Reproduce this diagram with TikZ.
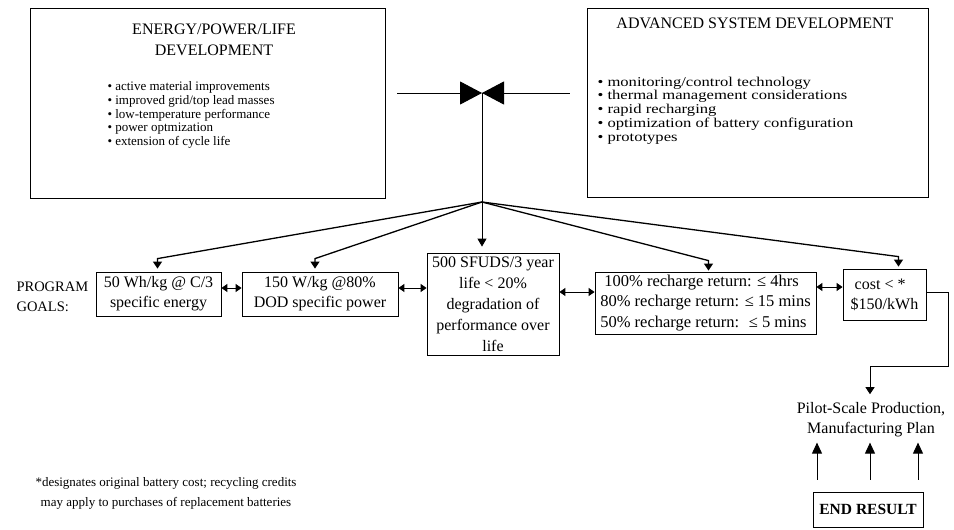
\documentclass[tikz,border=0pt]{standalone}
\usepackage{fontspec}
\setmainfont{Liberation Serif}
\newfontfamily\widefont[FakeStretch=1.23]{Liberation Serif}
\usetikzlibrary{arrows.meta,calc}

\begin{document}
\begin{tikzpicture}
   [x=1pt,y=-1pt,
    box/.style={draw,line width=0.8pt,inner sep=0pt},
    goal/.style={draw,line width=0.8pt,inner sep=2pt,align=center,
       font=\fontsize{16}{20}\selectfont},
    feed/.style={line width=1.3pt,-{Triangle[length=7pt,width=9pt]}},
    rise/.style={line width=0.9pt,-{Triangle[length=11pt,width=10pt]}},
    meet/.style={line width=0.9pt,-{Triangle[length=22pt,width=23pt]}},
    link/.style={line width=1pt,{Triangle[length=6pt,width=8pt]}-{Triangle[length=6pt,width=8pt]}}]
   \useasboundingbox (0,0) rectangle (954,530);

   % development boxes
   \node[box,minimum width=355pt,minimum height=190pt] (lbox) at (207.5,103) {};
   \node[align=center,font=\fontsize{16}{21}\selectfont] (ltitle) at (214,39.5)
      {ENERGY/POWER/LIFE\\DEVELOPMENT};
   \node[anchor=west,align=left,font=\fontsize{13}{13.6}\selectfont] (litems) at (104,115)
      {• active material improvements\\• improved grid/top lead masses\\
       • low-temperature performance\\• power optmization\\• extension of cycle life};

   \node[box,minimum width=341pt,minimum height=189pt] (rbox) at (757.5,102.5) {};
   \node[font=\fontsize{16}{20}\selectfont] (rtitle) at (755,23) {ADVANCED SYSTEM DEVELOPMENT};
   \node[anchor=west,align=left,font=\widefont\fontsize{13.5}{13.8}\selectfont] (ritems) at (594,110.5)
      {• monitoring/control technology\\• thermal management considerations\\
       • rapid recharging\\• optimization of battery configuration\\• prototypes};

   \coordinate (hub) at (482,93);
   \coordinate (split) at (482,202);
   \draw[meet] ($(lbox.east |- hub)+(12,0)$) -- (hub);
   \draw[meet] ($(rbox.west |- hub)+(-17,0)$) -- (hub);
   \draw[line width=0.9pt] (hub) -- (split);

   % program goals
   \node[anchor=west,align=left,font=\fontsize{14.5}{20}\selectfont] (prog) at (13,297)
      {PROGRAM\\GOALS:};
   \node[goal,minimum width=125pt,minimum height=44pt] (g1) at (158.5,294)
      {50 Wh/kg @ C/3\\specific energy};
   \node[goal,minimum width=156pt,minimum height=44pt] (g2) at (320,294)
      {150 W/kg @80\%\\DOD specific power};
   \node[goal,minimum width=132pt,minimum height=102pt,font=\fontsize{16}{21}\selectfont] (g3) at (493,304)
      {500 SFUDS/3 year\\life < 20\%\\degradation of\\performance over\\life};
   \node[goal,align=left,minimum width=221pt,minimum height=62pt,font=\fontsize{16.5}{20.5}\selectfont] (g4) at (705.5,303)
      {\ 100\% recharge return: ≤ 4hrs\\80\% recharge return: ≤ 15 mins\\50\% recharge return: \ ≤ 5 mins};
   \node[goal,align=left,minimum width=83pt,minimum height=51pt] (g5) at (884.5,294.5)
      {\ cost < *\\\$150/kWh};

   \draw[feed] (split) -- ([shift={(-1,-13)}]g1.north) -- ([shift={(-1,-3)}]g1.north);
   \draw[feed] (split) -- ([shift={(-5,-13)}]g2.north) -- ([shift={(-5,-3)}]g2.north);
   \draw[line width=0.9pt,-{Triangle[length=8pt,width=9pt]}] (split) -- ([shift={(0,-6)}]g3.north -| split);
   \draw[feed] (split) -- ([shift={(3,-11)}]g4.north) -- ([shift={(3,-1)}]g4.north);
   \draw[feed] (split) -- ([shift={(14,-12)}]g5.north) -- ([shift={(14,-2)}]g5.north);

   \draw[link] (g1.east |- 0,288) -- (g2.west |- 0,288);
   \draw[link] (g2.east |- 0,288) -- (g3.west |- 0,288);
   \draw[link] (g3.east |- 0,292) -- (g4.west |- 0,292);
   \draw[link] (g4.east |- 0,287) -- (g5.west |- 0,287);

   % production
   \node[align=center,font=\fontsize{16}{20}\selectfont] (pilot) at (871,420)
      {Pilot-Scale Production,\\Manufacturing Plan};
   \draw[feed,line width=0.9pt] ($(g5.east)+(0,-2)$) -- ++(22,0) |- ($(pilot.north)+(-1,-33)$)
      -- ($(pilot.north)+(-1,-5)$);

   \node[box,inner sep=4pt,minimum width=110pt,minimum height=35pt,
      font=\fontsize{15.5}{18}\selectfont\bfseries] (endres) at (868,509.5) {END RESULT};
   \foreach \dx in {-51,2,50}
      \draw[rise] ([shift={(\dx,-12)}]endres.north) -- ([shift={(\dx,-49)}]endres.north);

   % footnote
   \node[align=center,font=\fontsize{13}{20}\selectfont] (note) at (166,493)
      {*designates original battery cost; recycling credits\\
       may apply to purchases of replacement batteries};
\end{tikzpicture}
\end{document}
